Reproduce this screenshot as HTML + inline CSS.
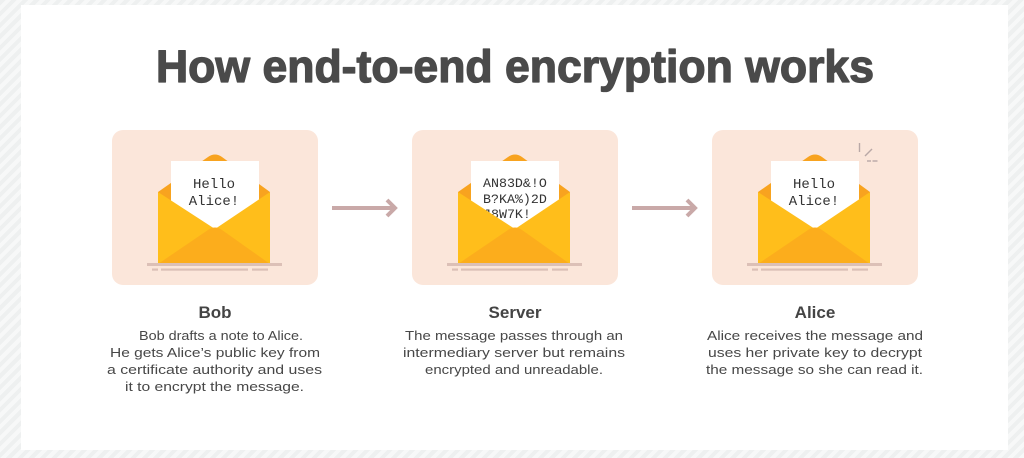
<!DOCTYPE html>
<html>
<head>
<meta charset="utf-8">
<style>
  html,body{margin:0;padding:0;width:1024px;height:458px;overflow:hidden;}
  body{background:repeating-linear-gradient(135deg,#eef0f0 0px,#eef0f0 4px,#f7f8f8 4px,#f7f8f8 8px);}
  svg{display:block;position:absolute;left:0;top:0;}
</style>
</head>
<body>
<svg width="1024" height="458" viewBox="0 0 1024 458" xmlns="http://www.w3.org/2000/svg">
  <defs>
    <clipPath id="lc1"><rect x="171" y="161" width="88" height="80"/></clipPath>
    <clipPath id="lc2"><rect x="471" y="161" width="88" height="80"/></clipPath>
    <clipPath id="lc3"><rect x="771" y="161" width="88" height="80"/></clipPath>
  </defs>
  <rect x="21" y="5" width="987" height="445" fill="#ffffff"/>

  <text x="156" y="82" textLength="718" lengthAdjust="spacingAndGlyphs" font-family="Liberation Sans, sans-serif" font-weight="bold" font-size="45" fill="#4a4a4a" stroke="#4a4a4a" stroke-width="1.3" stroke-linejoin="round">How end-to-end encryption works</text>

  <!-- Cards -->
  <rect x="112" y="130" width="206" height="155" rx="11" fill="#fbe6da"/>
  <rect x="412" y="130" width="206" height="155" rx="11" fill="#fbe6da"/>
  <rect x="712" y="130" width="206" height="155" rx="11" fill="#fbe6da"/>

  <!-- Envelope 1 -->
  <g>
    <path d="M158,192 L208,157 Q215,152 222,157 L270,192 L270,264 L158,264 Z" fill="#f8a31f"/>
    <rect x="171" y="161" width="88" height="80" fill="#ffffff"/>
    <g clip-path="url(#lc1)" font-family="Liberation Mono, monospace" font-size="14" fill="#333333" text-anchor="middle">
      <text x="214" y="188">Hello</text>
      <text x="214" y="205">Alice!</text>
    </g>
    <path d="M158,192 L215,229 L270,192 L270,264 L158,264 Z" fill="#ffbe1b"/>
    <path d="M158,264 L208,230 Q215,225 222,230 L270,264 Z" fill="#fcad1c"/>
    <rect x="147" y="263" width="135" height="3" fill="#dcc0b7"/>
    <rect x="152" y="268.5" width="6" height="2.2" fill="#dcc0b7"/>
    <rect x="161" y="268.5" width="87" height="2.2" fill="#dcc0b7"/>
    <rect x="252" y="268.5" width="16" height="2.2" fill="#dcc0b7"/>
  </g>

  <!-- Envelope 2 -->
  <g>
    <path d="M458,192 L508,157 Q515,152 522,157 L570,192 L570,264 L458,264 Z" fill="#f8a31f"/>
    <rect x="471" y="161" width="88" height="80" fill="#ffffff"/>
    <g clip-path="url(#lc2)" font-family="Liberation Mono, monospace" font-size="13.3" fill="#333333">
      <text x="483" y="187">AN83D&amp;!O</text>
      <text x="483" y="203">B?KA%)2D</text>
      <text x="483" y="218">J8W7K!</text>
    </g>
    <path d="M458,192 L515,229 L570,192 L570,264 L458,264 Z" fill="#ffbe1b"/>
    <path d="M458,264 L508,230 Q515,225 522,230 L570,264 Z" fill="#fcad1c"/>
    <rect x="447" y="263" width="135" height="3" fill="#dcc0b7"/>
    <rect x="452" y="268.5" width="6" height="2.2" fill="#dcc0b7"/>
    <rect x="461" y="268.5" width="87" height="2.2" fill="#dcc0b7"/>
    <rect x="552" y="268.5" width="16" height="2.2" fill="#dcc0b7"/>
  </g>

  <!-- Envelope 3 -->
  <g>
    <path d="M758,192 L808,157 Q815,152 822,157 L870,192 L870,264 L758,264 Z" fill="#f8a31f"/>
    <rect x="771" y="161" width="88" height="80" fill="#ffffff"/>
    <g clip-path="url(#lc3)" font-family="Liberation Mono, monospace" font-size="14" fill="#333333" text-anchor="middle">
      <text x="814" y="188">Hello</text>
      <text x="814" y="205">Alice!</text>
    </g>
    <path d="M758,192 L815,229 L870,192 L870,264 L758,264 Z" fill="#ffbe1b"/>
    <path d="M758,264 L808,230 Q815,225 822,230 L870,264 Z" fill="#fcad1c"/>
    <rect x="747" y="263" width="135" height="3" fill="#dcc0b7"/>
    <rect x="752" y="268.5" width="6" height="2.2" fill="#dcc0b7"/>
    <rect x="761" y="268.5" width="87" height="2.2" fill="#dcc0b7"/>
    <rect x="852" y="268.5" width="16" height="2.2" fill="#dcc0b7"/>
    <g stroke="#b9a8a6" stroke-width="1.4" fill="none">
      <line x1="859.5" y1="143" x2="859.5" y2="152"/>
      <line x1="865" y1="156" x2="872" y2="149"/>
      <line x1="867" y1="161" x2="871" y2="161"/>
      <line x1="872.5" y1="161" x2="877.5" y2="161"/>
    </g>
  </g>

  <!-- Arrows -->
  <g stroke="#c9a9a8" stroke-width="4" fill="none" stroke-linecap="butt">
    <line x1="332" y1="208" x2="395" y2="208"/>
    <polyline points="387,200 395,208 387,216" stroke-linejoin="miter"/>
    <line x1="632" y1="208" x2="695" y2="208"/>
    <polyline points="687,200 695,208 687,216" stroke-linejoin="miter"/>
  </g>

  <!-- Labels -->
  <g font-family="Liberation Sans, sans-serif" font-weight="bold" font-size="17" fill="#444444" text-anchor="middle">
    <text x="215" y="318">Bob</text>
    <text x="515" y="318">Server</text>
    <text x="815" y="318">Alice</text>
  </g>
  <g font-family="Liberation Sans, sans-serif" font-size="13" fill="#474747">
    <text x="139" y="340" textLength="164" lengthAdjust="spacingAndGlyphs">Bob drafts a note to Alice.</text>
    <text x="110" y="357" textLength="210" lengthAdjust="spacingAndGlyphs">He gets Alice’s public key from</text>
    <text x="107" y="374" textLength="215" lengthAdjust="spacingAndGlyphs">a certificate authority and uses</text>
    <text x="125" y="391" textLength="179" lengthAdjust="spacingAndGlyphs">it to encrypt the message.</text>

    <text x="405" y="340" textLength="218" lengthAdjust="spacingAndGlyphs">The message passes through an</text>
    <text x="403" y="357" textLength="222" lengthAdjust="spacingAndGlyphs">intermediary server but remains</text>
    <text x="425" y="374" textLength="178" lengthAdjust="spacingAndGlyphs">encrypted and unreadable.</text>

    <text x="707" y="340" textLength="216" lengthAdjust="spacingAndGlyphs">Alice receives the message and</text>
    <text x="708" y="357" textLength="214" lengthAdjust="spacingAndGlyphs">uses her private key to decrypt</text>
    <text x="706" y="374" textLength="217" lengthAdjust="spacingAndGlyphs">the message so she can read it.</text>
  </g>
</svg>
</body>
</html>
